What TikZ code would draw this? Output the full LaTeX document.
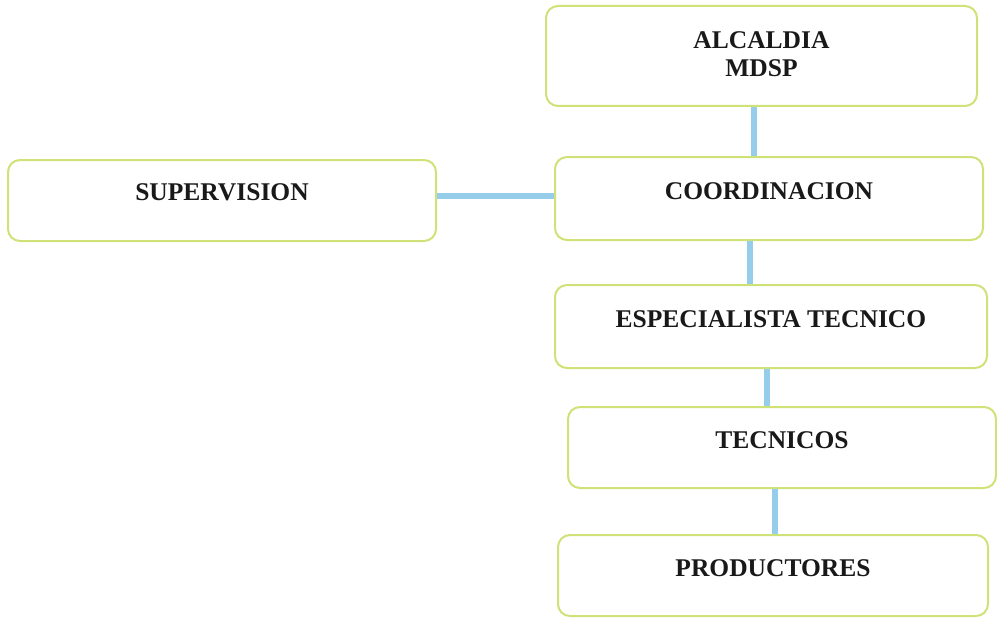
\documentclass[tikz,border=0pt]{standalone}
\usepackage{fontspec}
\setmainfont{Liberation Serif}
\definecolor{boxline}{RGB}{206,226,120}
\definecolor{connblue}{RGB}{150,205,235}
\definecolor{txt}{RGB}{25,25,25}
\begin{document}
\begin{tikzpicture}[x=1pt,y=-1pt,
  orgbox/.style={draw=boxline, line width=2pt, rounded corners=12pt, fill=white,
    inner sep=0pt, align=center, text=txt,
    font=\fontsize{25.5}{31}\selectfont\bfseries},
  conn/.style={draw=connblue, line width=6pt}]
\useasboundingbox (0,0) rectangle (997,618);
\node[orgbox, minimum width=431pt, minimum height=100pt] (alc) at (761.5,56) {\raisebox{3pt}{\begin{tabular}{@{}c@{}}ALCALDIA\\[-3pt] MDSP\end{tabular}}};
\node[orgbox, minimum width=428pt, minimum height=83pt] (coord) at (769,198.5) {\raisebox{15pt}{COORDINACION}};
\node[orgbox, minimum width=428pt, minimum height=81pt] (sup) at (222,200.5) {\raisebox{17pt}{SUPERVISION}};
\node[orgbox, minimum width=432pt, minimum height=83pt] (esp) at (771,326.5) {\raisebox{14pt}{ESPECIALISTA TECNICO}};
\node[orgbox, minimum width=428pt, minimum height=81pt] (tec) at (782,447.5) {\raisebox{15pt}{TECNICOS}};
\node[orgbox, minimum width=430pt, minimum height=81pt] (prod) at (773,575.5) {\raisebox{14pt}{PRODUCTORES}};
\draw[conn] ([xshift=-7.5pt]alc.south) -- ([xshift=-7.5pt]alc.south |- coord.north);
\draw[conn] ([xshift=-19pt]coord.south) -- ([xshift=-19pt]coord.south |- esp.north);
\draw[conn] ([xshift=-4pt]esp.south) -- ([xshift=-4pt]esp.south |- tec.north);
\draw[conn] ([xshift=-7pt]tec.south) -- ([xshift=-7pt]tec.south |- prod.north);
\draw[conn] ([yshift=5pt]sup.east) -- ([yshift=5pt]sup.east -| coord.west);
\end{tikzpicture}
\end{document}
